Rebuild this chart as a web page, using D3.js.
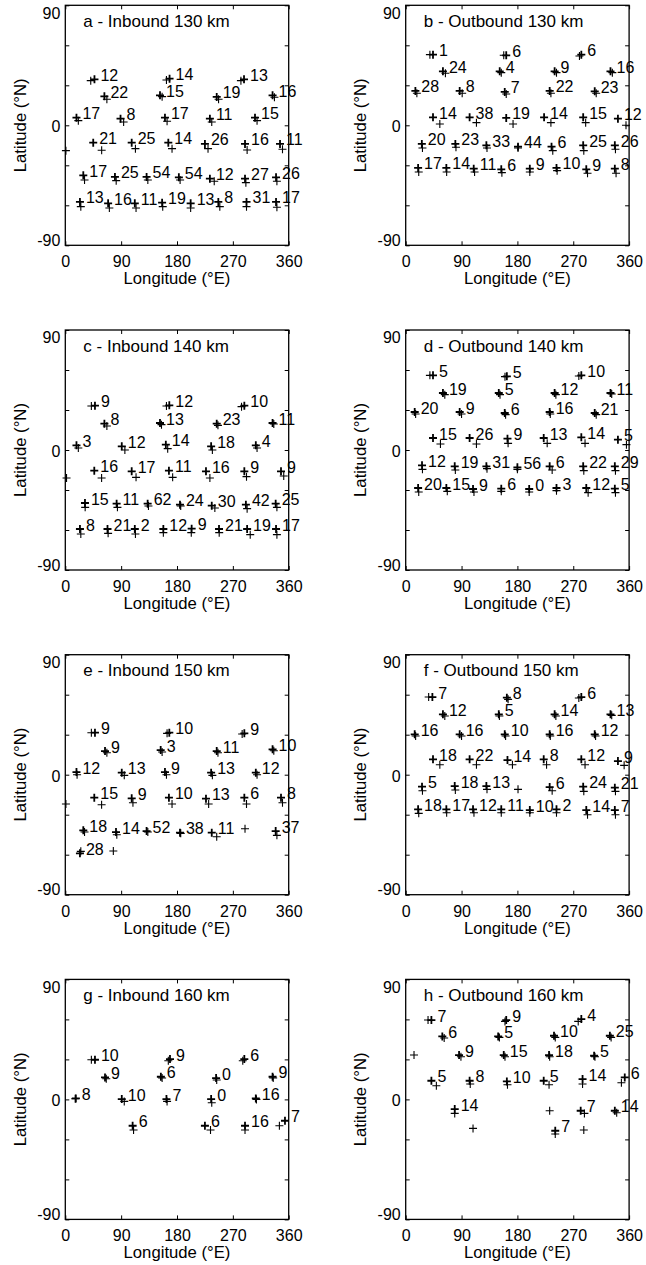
<!DOCTYPE html>
<html>
<head>
<meta charset="utf-8">
<script src="https://cdn.jsdelivr.net/npm/d3@7"></script>
<style>
  body { margin: 0; background: #fff; }
  svg { display: block; }
  text { font-family: 'Liberation Sans', Arial, Helvetica, sans-serif; fill: #000; }
</style>
</head>
<body>
<svg id="chart" width="646" height="1265"></svg>
<script>
// Each group: [lon, lat, count label, lon of companion cross, lat of companion cross]
const inbound130 = [
  [47, 34.5, "12", 41, 33.5], [168, 35, "14", 163, 34], [288, 34.5, "13", 283, 33.5],
  [63, 21.75, "22", 67, 19.5], [152.6, 22.5, "15", 156, 21.5], [244, 21.25, "19", 247, 19.5], [334, 22.5, "16", 337, 21],
  [18, 5.75, "17", 21, 3.5], [89, 5, "8", 94, 2.5], [160.6, 5.75, "17", 164, 3], [233, 5, "11", 236, 2.5], [305.7, 5.75, "15", 309, 3.5],
  [45, -13, "21", 58.6, -18.75], [107, -13, "25", 113, -17.5], [166, -13, "14", 172, -17.5], [225, -14, "26", 230, -17.5], [289.6, -14, "16", 293, -18.5], [346, -14, "11", 350, -18],
  [29, -37.5, "17", 31, -41], [80, -38.75, "25", 82, -41.5], [131, -38.75, "54", 133, -41], [183, -39, "54", 185, -41], [233, -40, "12", 240, -42], [289.6, -40, "27", 291, -43], [339.6, -39, "26", 341, -42],
  [23.6, -57.5, "13", 25, -61], [69, -58.5, "16", 71, -62], [112, -58.5, "11", 114, -62], [156, -58, "19", 157, -61], [202, -58.5, "13", 202, -62], [246.6, -57.5, "8", 249, -61], [292, -57.5, "31", 292, -61], [339.6, -57.5, "17", 341, -61.5]
];
const inbound130Loose = [[1, -19]];

const outbound130 = [
  [44, 53, "1", 39, 53], [162, 52.5, "6", 158, 52.5], [283, 53, "6", 280, 52],
  [60, 40.5, "24", 64, 39], [151.5, 40.5, "4", 154, 39.5], [240, 40.5, "9", 243, 39.5], [330, 40.5, "16", 333, 39.5],
  [15.6, 25.75, "28", 18, 24], [87, 25.75, "8", 91, 24], [159.6, 25, "7", 162, 23.5], [232, 25.75, "22", 234, 24], [304.6, 25.5, "23", 307, 24],
  [44, 6, "14", 55, 1], [103, 6, "38", 114, 2], [162, 5.5, "19", 173, 1], [223, 6, "14", 234, 2], [286, 6, "15", 290, 2], [342, 5, "12", 355, 0],
  [26, -14, "20", 27, -17], [80, -14, "23", 81, -16.5], [130, -15, "33", 131, -17], [181, -16, "44", 181, -17], [235, -16, "6", 237, -19], [286, -15, "25", 287, -19], [337, -15, "26", 338, -18],
  [20, -32, "17", 21, -35], [65.5, -32, "14", 66, -35], [109.6, -32.5, "11", 111, -35], [154, -33, "6", 155, -35.5], [200, -32.5, "9", 200, -35], [243, -32, "10", 244, -34], [291, -33, "9", 293, -36], [337, -32.5, "8", 339, -36]
];
const outbound130Loose = [];

const inbound140 = [
  [47.8, 33.25, "9", 42, 33], [167.6, 33.5, "12", 163, 33], [288.5, 33.25, "10", 284, 32.5],
  [63, 19.75, "8", 67, 18], [152.6, 20.25, "13", 155, 19], [244, 19.75, "23", 246, 18.5], [334, 20.25, "11", 336, 19.5],
  [18, 3.5, "3", 21, 1.5], [91, 2.75, "12", 96, 0], [162, 4, "14", 165, 1], [235, 2.75, "18", 237, 0], [307, 3.5, "4", 309, 1.5],
  [46.7, -15.5, "16", 58.5, -21], [107, -16, "17", 114, -20.5], [167, -15.5, "11", 173, -20.5], [226.7, -16, "16", 233, -21], [288.5, -16, "9", 292, -20], [347.6, -16, "9", 352, -19.5],
  [31.7, -39.75, "15", 32, -43], [82.7, -40.25, "11", 84, -43], [132.7, -40.25, "62", 134, -42], [184.8, -41, "24", 186, -42], [236, -41.75, "30", 241, -43.5], [291, -41, "42", 293, -44], [339, -40.25, "25", 341, -43],
  [23.6, -59.25, "8", 25, -63], [68, -59.25, "21", 69, -62.5], [112, -59.25, "2", 113, -63], [158, -59.25, "12", 158, -62], [203.6, -59, "9", 203, -62], [247.7, -59.25, "21", 248, -62], [293, -59.25, "19", 298, -63.5], [339.6, -59.25, "17", 341, -63.5]
];
const inbound140Loose = [[2, -21]];

const outbound140 = [
  [44, 56, "5", 39, 56], [163, 55.25, "5", 160, 55], [283, 56, "10", 279, 55.5],
  [60, 42.75, "19", 63, 41.5], [150, 42.75, "5", 152, 41.5], [240, 42.75, "12", 242, 41.5], [330, 42.75, "11", 332, 42],
  [14.5, 28.5, "20", 16, 27], [87, 28.5, "9", 90, 27], [159.6, 27.75, "6", 161, 26.5], [232, 28.5, "16", 233, 27], [304.6, 27.75, "21", 307, 26.5],
  [44, 9, "15", 56, 4.5], [103, 9, "26", 114, 4.5], [164, 8.5, "9", 165, 5], [222.4, 9, "13", 228, 5], [283, 9.5, "14", 289, 5], [342, 7.75, "5", 355.7, 4],
  [26.3, -11.5, "12", 27, -14.5], [79, -12.25, "19", 80, -15], [130, -12.25, "31", 131, -14], [180, -13, "56", 180, -14.5], [232, -12.25, "6", 236, -15], [286, -12.25, "22", 287, -15.5], [337, -12.25, "29", 338, -15.5],
  [20, -28.5, "20", 21, -31.5], [65.5, -28.5, "15", 67, -31], [108.5, -29.25, "9", 110, -31.5], [154, -29, "6", 154, -31], [199, -29.25, "0", 199, -31.5], [243, -28.5, "3", 243, -30.5], [291, -28.5, "12", 294, -32], [337, -29, "5", 338, -32]
];
const outbound140Loose = [];

const inbound150 = [
  [47.8, 31.5, "9", 42, 31.5], [167.6, 31.5, "10", 164, 31], [288.5, 31, "9", 285, 30.5],
  [64, 17.75, "9", 67, 16.5], [153.7, 18.5, "3", 156, 17], [244, 17.75, "11", 246, 16.5], [334, 19, "10", 336, 18],
  [18, 2, "12", 19, 0], [91, 1.5, "13", 95, -0.5], [160.6, 2, "9", 163, 0], [235, 1.5, "13", 237, -0.5], [307, 1.5, "12", 309, 0],
  [46.7, -17.25, "15", 58.5, -22.5], [107, -17.75, "9", 109, -21], [167, -17.25, "10", 172, -22], [226.7, -18, "13", 231, -22], [288.5, -17.25, "6", 292, -22], [347.6, -17.25, "8", 350, -21],
  [29, -41.75, "18", 31, -43], [81.7, -43, "14", 83, -45], [131, -42.25, "52", 133, -43], [184.8, -43.5, "38", 186, -44], [236, -43.5, "11", 244, -46.5], [339, -42.25, "37", 341, -45.5],
  [23.6, -59, "28", 25, -57.5]
];
const inbound150Loose = [[1, -22], [289.6, -40.5], [77.4, -57.25]];

const outbound150 = [
  [43, 58.25, "7", 37, 58.25], [163, 57.75, "8", 165, 56.5], [283, 58.25, "6", 279, 57.5],
  [60, 45.25, "12", 63, 44], [150, 45.25, "5", 151, 44], [240, 45.25, "14", 242, 44], [330, 45.25, "13", 332, 44.5],
  [14.5, 30.25, "16", 16, 29], [87, 30.25, "16", 90, 29], [159.6, 30.25, "10", 161, 29], [232, 30.25, "16", 233, 29], [304.6, 30.25, "12", 306, 29],
  [44, 11.5, "18", 55, 7.5], [103, 11.5, "22", 114, 7.5], [164, 11, "14", 172, 7.5], [222.4, 11.5, "8", 227, 7.5], [283, 11.5, "12", 289, 7.5], [342, 10.25, "9", 352, 7],
  [26.3, -9, "5", 27, -12], [79, -8.5, "18", 80, -11.5], [130, -8.5, "13", 131, -11], [232, -9.25, "6", 236, -12], [286, -9, "24", 287, -12.5], [337, -9.75, "21", 338, -12.5],
  [20, -26, "18", 21, -29], [65.5, -26, "17", 66, -28.5], [108.5, -26, "12", 110, -28.5], [154, -26, "11", 154, -28.5], [200, -26.5, "10", 200, -28.5], [243, -26, "2", 243, -28.5], [291, -26.5, "14", 293, -30], [337, -26.5, "7", 338, -30]
];
const outbound150Loose = [[181, -11]];

const inbound160 = [
  [47.8, 29.75, "10", 42, 29.75], [168.7, 30.25, "9", 166, 29], [288.5, 30.25, "6", 286, 29],
  [64, 16.5, "9", 66, 15.5], [154, 17, "6", 156, 16], [243, 16, "0", 244, 14.5], [334, 17, "9", 335, 16],
  [17, 0.75, "8", 16, 0.5], [91, 0.25, "10", 95, -1.5], [163, 0.25, "7", 164, -1.5], [235, 0.25, "0", 236, -2.5], [307, 0.75, "16", 308, 0],
  [108.5, -19.75, "6", 110, -23], [225, -19.75, "6", 234, -23], [289.6, -19.75, "16", 289.6, -23], [354, -16, "7", 345, -19.75]
];
const inbound160Loose = [];

const outbound160 = [
  [41.4, 59.5, "7", 36, 59.5], [162, 59.5, "9", 160, 58.5], [283, 60.25, "4", 278, 58.5],
  [59, 47.25, "6", 62, 46], [149, 47.25, "5", 151, 46.5], [239, 47.75, "10", 241, 46.5], [329, 47.75, "25", 331, 46.5],
  [86, 33.25, "9", 89, 32], [158, 33.25, "15", 160, 32], [231, 33.25, "18", 232, 32], [303.6, 32.75, "5", 305, 32],
  [41.4, 14, "5", 49.4, 10.25], [103, 14, "8", 104, 11.5], [163, 13.5, "10", 164, 11], [222.4, 14, "5", 231, 11], [285, 15.25, "14", 285, 11.5], [353, 16.5, "6", 347.6, 12.5],
  [79, -7.25, "14", 79, -10.5], [282, -8.5, "7", 288, -10.5], [337, -8.5, "14", 340, -10], [241, -23.5, "7", 241, -26]
];
const outbound160Loose = [[13.4, 33.25], [108.5, -21.75], [232, -8.5], [287, -23]];

const panelTitles = [
  "a - Inbound 130 km", "b - Outbound 130 km",
  "c - Inbound 140 km", "d - Outbound 140 km",
  "e - Inbound 150 km", "f - Outbound 150 km",
  "g - Inbound 160 km", "h - Outbound 160 km"
];
const panelGroups = [inbound130, outbound130, inbound140, outbound140, inbound150, outbound150, inbound160, outbound160];
const panelLoose = [inbound130Loose, outbound130Loose, inbound140Loose, outbound140Loose, inbound150Loose, outbound150Loose, inbound160Loose, outbound160Loose];

const lonTicks = [0, 90, 180, 270, 360];
const latTicks = [-90, -60, -30, 0, 30, 60, 90];
const latLabels = [-90, 0, 90];

// Layout
const colLeft = [65.3, 405.7];
const rowTop = [5.3, 330, 654.7, 979.4];
const plotW = 223.4, plotH = 240;

const svg = d3.select("#chart");
svg.append("rect").attr("width", 646).attr("height", 1265).attr("fill", "#fff");

const crossPath = "M-4,0H4M0,-4V4";

panelTitles.forEach((title, i) => {
  const col = i % 2, row = Math.floor(i / 2);
  const g = svg.append("g").attr("transform", `translate(${colLeft[col]},${rowTop[row]})`);

  const x = d3.scaleLinear().domain([0, 360]).range([0, plotW]);
  const y = d3.scaleLinear().domain([-90, 90]).range([plotH, 0]);

  // Inward ticks on all four sides
  g.append("g").attr("transform", `translate(0,${plotH})`)
    .call(d3.axisBottom(x).tickValues(lonTicks).tickSize(-4).tickSizeOuter(0).tickPadding(10.5));
  g.append("g")
    .call(d3.axisTop(x).tickValues(lonTicks).tickSize(-4).tickSizeOuter(0).tickFormat(""));
  const left = g.append("g")
    .call(d3.axisLeft(y).tickValues(latTicks).tickSize(-4).tickSizeOuter(0).tickPadding(5)
      .tickFormat(d => latLabels.includes(d) ? d : ""));
  g.append("g").attr("transform", `translate(${plotW},0)`)
    .call(d3.axisRight(y).tickValues(latTicks).tickSize(-4).tickSizeOuter(0).tickFormat(""));

  g.selectAll(".domain").remove();
  g.selectAll(".tick line").attr("stroke", "#000").attr("stroke-width", 1);
  g.selectAll(".tick text").attr("font-size", 16).attr("fill", "#000")
    .attr("font-family", "'Liberation Sans', Arial, Helvetica, sans-serif");
  left.selectAll(".tick text").attr("dy", d => d === 90 ? "0.8em" : d === -90 ? "0em" : "0.4em");

  // Frame
  g.append("rect").attr("width", plotW).attr("height", plotH)
    .attr("fill", "none").attr("stroke", "#000").attr("stroke-width", 1.3);

  // Panel title
  g.append("text").attr("x", 18).attr("y", 21.5).attr("font-size", 17).text(title);

  // Axis titles
  g.append("text").attr("x", plotW / 2).attr("y", plotH + 39)
    .attr("text-anchor", "middle").attr("font-size", 16.7).text("Longitude (°E)");
  g.append("text").attr("transform", `translate(-39.5,${plotH / 2}) rotate(-90)`)
    .attr("text-anchor", "middle").attr("font-size", 16.7).text("Latitude (°N)");

  const marks = g.append("g").attr("stroke", "#000").attr("fill", "none");
  const groups = panelGroups[i];

  // Companion crosses
  marks.selectAll("path.tail").data(groups).join("path").attr("class", "tail")
    .attr("d", crossPath).attr("stroke-width", 1.1)
    .attr("transform", d => `translate(${x(d[3])},${y(d[4])})`);
  // Main crosses (overlapping detections drawn heavier)
  marks.selectAll("path.main").data(groups).join("path").attr("class", "main")
    .attr("d", crossPath).attr("stroke-width", 1.8)
    .attr("transform", d => `translate(${x(d[0])},${y(d[1])})`);
  // Crosses without a count
  marks.selectAll("path.loose").data(panelLoose[i]).join("path").attr("class", "loose")
    .attr("d", crossPath).attr("stroke-width", 1.1)
    .attr("transform", d => `translate(${x(d[0])},${y(d[1])})`);

  // Counts
  g.append("g").selectAll("text").data(groups).join("text")
    .attr("x", d => x(d[0]) + 6).attr("y", d => y(d[1]) + 1.5)
    .attr("font-size", 16).text(d => d[2]);
});
</script>
</body>
</html>
